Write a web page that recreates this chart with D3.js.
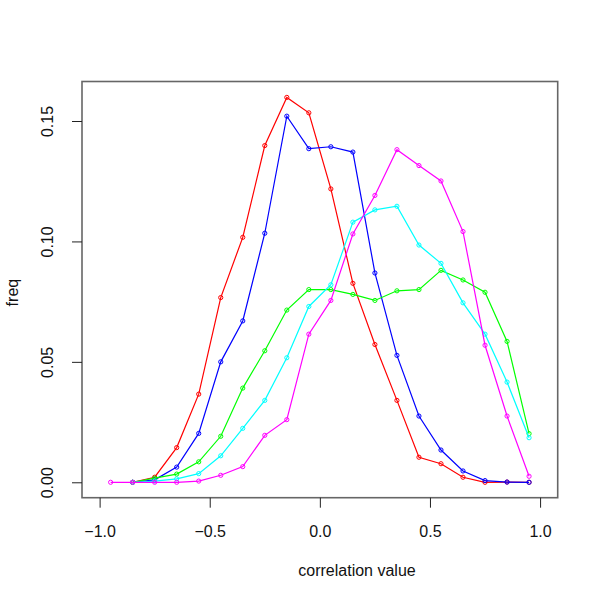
<!DOCTYPE html>
<html>
<head>
<meta charset="utf-8">
<script src="https://cdn.jsdelivr.net/npm/d3@7"></script>
<style>
  body { margin: 0; background: #fff; }
  svg { display: block; }
  text { font-family: "Liberation Sans", Arial, Helvetica, sans-serif; }
</style>
</head>
<body>
<svg id="chart" width="600" height="600"></svg>
<script>
// ---- data ----
const xValues = [-0.95, -0.85, -0.75, -0.65, -0.55, -0.45, -0.35, -0.25, -0.15, -0.05,
                  0.05, 0.15, 0.25, 0.35, 0.45, 0.55, 0.65, 0.75, 0.85, 0.95];
const redSeries     = [null, 0, 0.0021, 0.0144, 0.0366, 0.0767, 0.1017, 0.1398, 0.1598, 0.1534,
                       0.1218, 0.0826, 0.0572, 0.0340, 0.0104, 0.0077, 0.0021, 0.0000, 0.0001, 0.0000];
const blueSeries    = [null, 0, 0.0010, 0.0063, 0.0203, 0.0500, 0.0670, 0.1034, 0.1520, 0.1385,
                       0.1393, 0.1371, 0.0869, 0.0527, 0.0275, 0.0134, 0.0047, 0.0007, 0.0001, 0.0000];
const greenSeries   = [null, 0, 0.0017, 0.0034, 0.0085, 0.0191, 0.0391, 0.0546, 0.0715, 0.0800,
                       0.0800, 0.0780, 0.0755, 0.0795, 0.0800, 0.0880, 0.0840, 0.0789, 0.0585, 0.0202];
const cyanSeries    = [null, 0, 0.0005, 0.0014, 0.0036, 0.0110, 0.0224, 0.0340, 0.0517, 0.0730,
                       0.0820, 0.1080, 0.1131, 0.1146, 0.0985, 0.0909, 0.0745, 0.0615, 0.0416, 0.0185];
const magentaSeries = [0, 0, 0, 0, 0.0005, 0.0029, 0.0065, 0.0195, 0.0260, 0.0615,
                       0.0755, 0.1031, 0.1191, 0.1381, 0.1315, 0.1251, 0.1041, 0.0569, 0.0275, 0.0025];
const seriesColors = ["#FF0000", "#0000FF", "#00FF00", "#00FFFF", "#FF00FF"];
const xTicks = [-1.0, -0.5, 0.0, 0.5, 1.0];
const xTickLabels = ["\u22121.0", "\u22120.5", "0.0", "0.5", "1.0"];
const yTicks = [0.00, 0.05, 0.10, 0.15];
const yTickLabels = ["0.00", "0.05", "0.10", "0.15"];
const xLabel = "correlation value";
const yLabel = "freq";

// ---- layout ----
const plotLeft = 82, plotRight = 557.7, plotTop = 81.5, plotBottom = 497.7;
const svg = d3.select("#chart");

const x = d3.scaleLinear().domain([-1.08, 1.08]).range([plotLeft, plotRight]);
const y = d3.scaleLinear().domain([-0.0064, 0.1664]).range([plotBottom, plotTop]);

const allSeries = [redSeries, blueSeries, greenSeries, cyanSeries, magentaSeries];

// plot box
svg.append("rect")
  .attr("x", plotLeft).attr("y", plotTop)
  .attr("width", plotRight - plotLeft).attr("height", plotBottom - plotTop)
  .attr("fill", "none").attr("stroke", "#666").attr("stroke-width", 1.6);

// x axis
const xAxis = d3.axisBottom(x).tickValues(xTicks)
  .tickFormat((d, i) => xTickLabels[i]).tickSize(10).tickSizeOuter(0);
const gx = svg.append("g").attr("transform", `translate(0,${plotBottom})`).call(xAxis);
gx.select(".domain").remove();
gx.selectAll(".tick line").attr("stroke", "#222").attr("stroke-width", 1);
gx.selectAll(".tick text").attr("y", 39).attr("dy", 0)
  .attr("font-size", 16).attr("fill", "#111")
  .attr("font-family", "'Liberation Sans', Arial, sans-serif");

// y axis
const yAxis = d3.axisLeft(y).tickValues(yTicks)
  .tickFormat((d, i) => yTickLabels[i]).tickSize(10).tickSizeOuter(0);
const gy = svg.append("g").attr("transform", `translate(${plotLeft},0)`).call(yAxis);
gy.select(".domain").remove();
gy.selectAll(".tick line").attr("stroke", "#222").attr("stroke-width", 1);
gy.selectAll(".tick text")
  .attr("transform", "rotate(-90)")
  .attr("x", 0).attr("y", -29).attr("dy", 0)
  .attr("text-anchor", "middle")
  .attr("font-size", 16).attr("fill", "#111")
  .attr("font-family", "'Liberation Sans', Arial, sans-serif");

// series
const line = d3.line()
  .defined(d => d.v !== null)
  .x(d => x(d.x)).y(d => y(d.v));

allSeries.forEach((s, k) => {
  const pts = xValues.map((xv, i) => ({ x: xv, v: s[i] }));
  const g = svg.append("g");
  g.append("path").datum(pts)
    .attr("d", line)
    .attr("fill", "none")
    .attr("stroke", seriesColors[k])
    .attr("stroke-width", 1.2);
  g.selectAll("circle").data(pts.filter(d => d.v !== null)).enter()
    .append("circle")
    .attr("cx", d => x(d.x)).attr("cy", d => y(d.v))
    .attr("r", 2.1)
    .attr("fill", "none")
    .attr("stroke", seriesColors[k])
    .attr("stroke-width", 1);
});

// axis titles
svg.append("text")
  .attr("x", 357).attr("y", 576)
  .attr("text-anchor", "middle")
  .attr("font-size", 16).attr("fill", "#111")
  .text(xLabel);

svg.append("text")
  .attr("transform", `translate(18,${(plotTop + plotBottom) / 2 + 3}) rotate(-90)`)
  .attr("text-anchor", "middle")
  .attr("font-size", 16).attr("fill", "#111")
  .text(yLabel);
</script>
</body>
</html>
